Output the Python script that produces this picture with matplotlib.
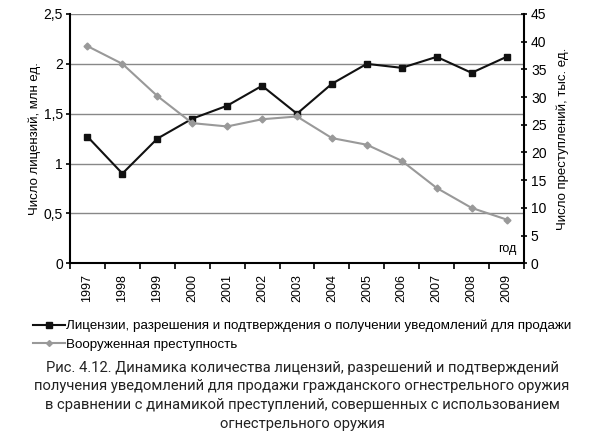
import matplotlib
matplotlib.use('Agg')
import matplotlib.pyplot as plt
import numpy as np
from matplotlib.lines import Line2D

plt.rcParams['font.family'] = ['Liberation Sans', 'DejaVu Sans']

years = ['1997', '1998', '1999', '2000', '2001', '2002', '2003',
         '2004', '2005', '2006', '2007', '2008', '2009']
licenses = [1.27, 0.90, 1.25, 1.45, 1.58, 1.78, 1.50,
            1.80, 2.00, 1.96, 2.07, 1.91, 2.07]
crimes = [39.2, 36.0, 30.2, 25.3, 24.7, 26.0, 26.5,
          22.6, 21.4, 18.5, 13.6, 10.0, 7.9]

left_ticks = [0, 0.5, 1, 1.5, 2, 2.5]
left_labels = ['0', '0,5', '1', '1,5', '2', '2,5']
right_ticks = [0, 5, 10, 15, 20, 25, 30, 35, 40, 45]

lbl_lic = 'Лицензии, разрешения и подтверждения о получении уведомлений для продажи'
lbl_crime = 'Вооруженная преступность'
caption = ('Рис. 4.12. Динамика количества лицензий, разрешений и подтверждений\n'
           'получения уведомлений для продажи гражданского огнестрельного оружия\n'
           'в сравнении с динамикой преступлений, совершенных с использованием\n'
           'огнестрельного оружия')

fig = plt.figure(figsize=(6.04, 4.44), dpi=100)
ax = fig.add_axes([0.1159, 0.407, 0.7516, 0.5615])
ax2 = ax.twinx()

x = np.arange(len(years))
ax.plot(x, licenses, color='#111111', lw=1.5, marker='s', ms=4.5, zorder=3)
ax2.plot(x, crimes, color='#999999', lw=1.5, marker='D', ms=3.5, zorder=3)

ax.set_xlim(-0.5, len(years) - 0.5)
ax.set_ylim(0, 2.5)
ax2.set_ylim(0, 45)

ax.set_yticks(left_ticks)
ax.set_yticklabels(left_labels, fontsize=10)
ax2.set_yticks(right_ticks)
ax2.set_yticklabels([str(t) for t in right_ticks], fontsize=10)

ax.set_xticks(x)
ax.set_xticklabels(years, rotation=90, fontsize=9)
ax.tick_params(axis='x', length=0, pad=8)
ax.set_xticks(np.arange(-0.5, len(years) + 0.5, 1), minor=True)
ax.tick_params(axis='x', which='minor', length=4, width=1.2, direction='out')
ax.tick_params(axis='y', length=3, width=1.2, direction='out', pad=2)
ax2.tick_params(axis='y', length=4, width=1.2, direction='inout', pad=3)

for t in left_ticks[1:]:
    ax.axhline(t, color='#888888', lw=1.0, zorder=1)

for s in ['left', 'bottom']:
    ax.spines[s].set_linewidth(1.5)
ax2.spines['right'].set_linewidth(1.5)
ax2.spines['top'].set_visible(False)
ax.spines['top'].set_visible(False)
ax.spines['right'].set_visible(False)
ax2.spines['left'].set_visible(False)
ax2.spines['bottom'].set_visible(False)

ax.set_ylabel('Число лицензий, млн ед.', fontsize=9.5, labelpad=2)
ax2.set_ylabel('Число преступлений, тыс. ед.', fontsize=9.5, labelpad=7)

ax.text(12.3, 0.08, 'год', fontsize=9, ha='right', va='bottom')

h1 = Line2D([], [], color='#111111', lw=1.5, marker='s', ms=4)
h2 = Line2D([], [], color='#999999', lw=1.5, marker='D', ms=3)
fig.legend([h1, h2], [lbl_lic, lbl_crime], loc='upper left',
           bbox_to_anchor=(0.045, 0.292), frameon=False, fontsize=9.6,
           handlelength=2.4, handletextpad=0.1, labelspacing=0.45,
           borderaxespad=0)

fig.text(0.5, 0.188, caption, ha='center', va='top', fontsize=10.6,
         family=['Roboto', 'DejaVu Sans'], linespacing=1.45, color='#222222')

fig.savefig('out.png', dpi=100)
